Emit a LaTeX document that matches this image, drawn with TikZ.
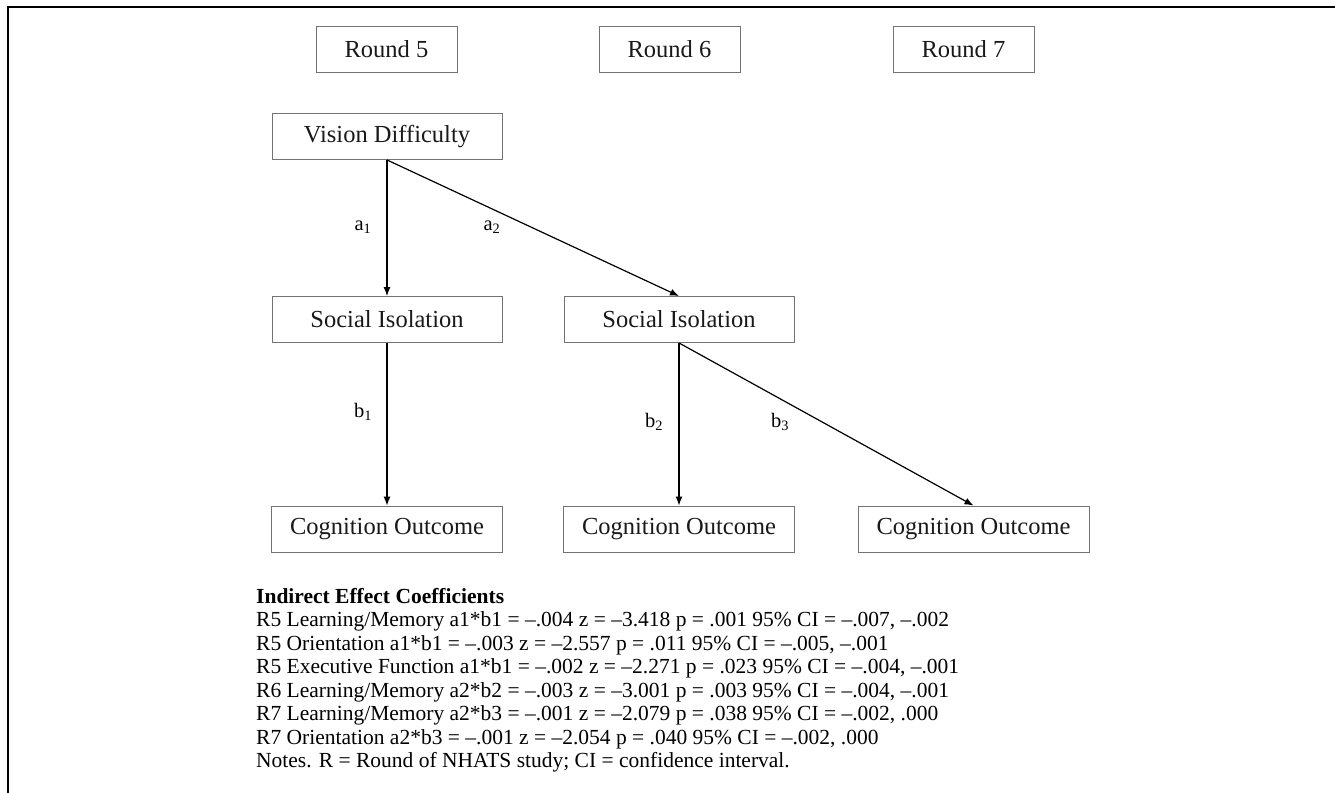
\documentclass[tikz,border=0pt]{standalone}
\usepackage{fontspec}
\setmainfont{Liberation Serif}
\usetikzlibrary{arrows.meta}
\begin{document}
\begin{tikzpicture}[x=1pt,y=-1pt,
  box/.style={draw=black!55, line width=0.9pt, minimum height=46pt, inner sep=0pt, font=\fontsize{24.5}{28}\selectfont, text=black!90},
  conn/.style={line width=1.2pt, -{Latex[length=9pt,width=7pt]}},
  lab/.style={font=\fontsize{20.5}{24}\selectfont, inner sep=0pt},
  frame/.style={line width=1.6pt}]
\useasboundingbox (0,0) rectangle (1335,793);
\draw[frame] (8,793) -- (8,7) -- (1335,7);
\node[box, minimum width=141pt] (r5) at (386.5,49) {Round 5};
\node[box, minimum width=141pt] (r6) at (669.5,49) {Round 6};
\node[box, minimum width=141pt] (r7) at (963.5,49) {Round 7};
\node[box, minimum width=230pt] (vd) at (387,136.5) {Vision Difficulty};
\node[box, minimum width=230pt] (si1) at (387,319.5) {Social Isolation};
\node[box, minimum width=230pt] (si2) at (679,319.5) {Social Isolation};
\node[box, minimum width=231pt] (co1) at (387,529) {Cognition Outcome};
\node[box, minimum width=231pt] (co2) at (679,529) {Cognition Outcome};
\node[box, minimum width=231pt] (co3) at (973.5,529) {Cognition Outcome};
\draw[conn] (vd.south) -- (si1.north);
\draw[conn] (vd.south) -- (si2.north);
\draw[conn] (si1.south) -- (co1.north);
\draw[conn] (si2.south) -- (co2.north);
\draw[conn] (si2.south) -- (co3.north);
\node[lab] (la1) at (363,227) {a\textsubscript{1}};
\node[lab] (la2) at (492,227) {a\textsubscript{2}};
\node[lab] (lb1) at (363,412) {b\textsubscript{1}};
\node[lab] (lb2) at (654,422) {b\textsubscript{2}};
\node[lab] (lb3) at (780,422) {b\textsubscript{3}};
\node[anchor=north west, align=left, inner sep=0pt, font=\fontsize{21.5}{23.5}\selectfont] (notes) at (256,588) {\textbf{Indirect Effect Coefficients}\\
R5 Learning/Memory a1*b1 = –.004 z = –3.418 p = .001 95\% CI = –.007, –.002\\
R5 Orientation a1*b1 = –.003 z = –2.557 p = .011 95\% CI = –.005, –.001\\
R5 Executive Function a1*b1 = –.002 z = –2.271 p = .023 95\% CI = –.004, –.001\\
R6 Learning/Memory a2*b2 = –.003 z = –3.001 p = .003 95\% CI = –.004, –.001\\
R7 Learning/Memory a2*b3 = –.001 z = –2.079 p = .038 95\% CI = –.002, .000\\
R7 Orientation a2*b3 = –.001 z = –2.054 p = .040 95\% CI = –.002, .000\\
Notes. R = Round of NHATS study; CI = confidence interval.};
\end{tikzpicture}
\end{document}
